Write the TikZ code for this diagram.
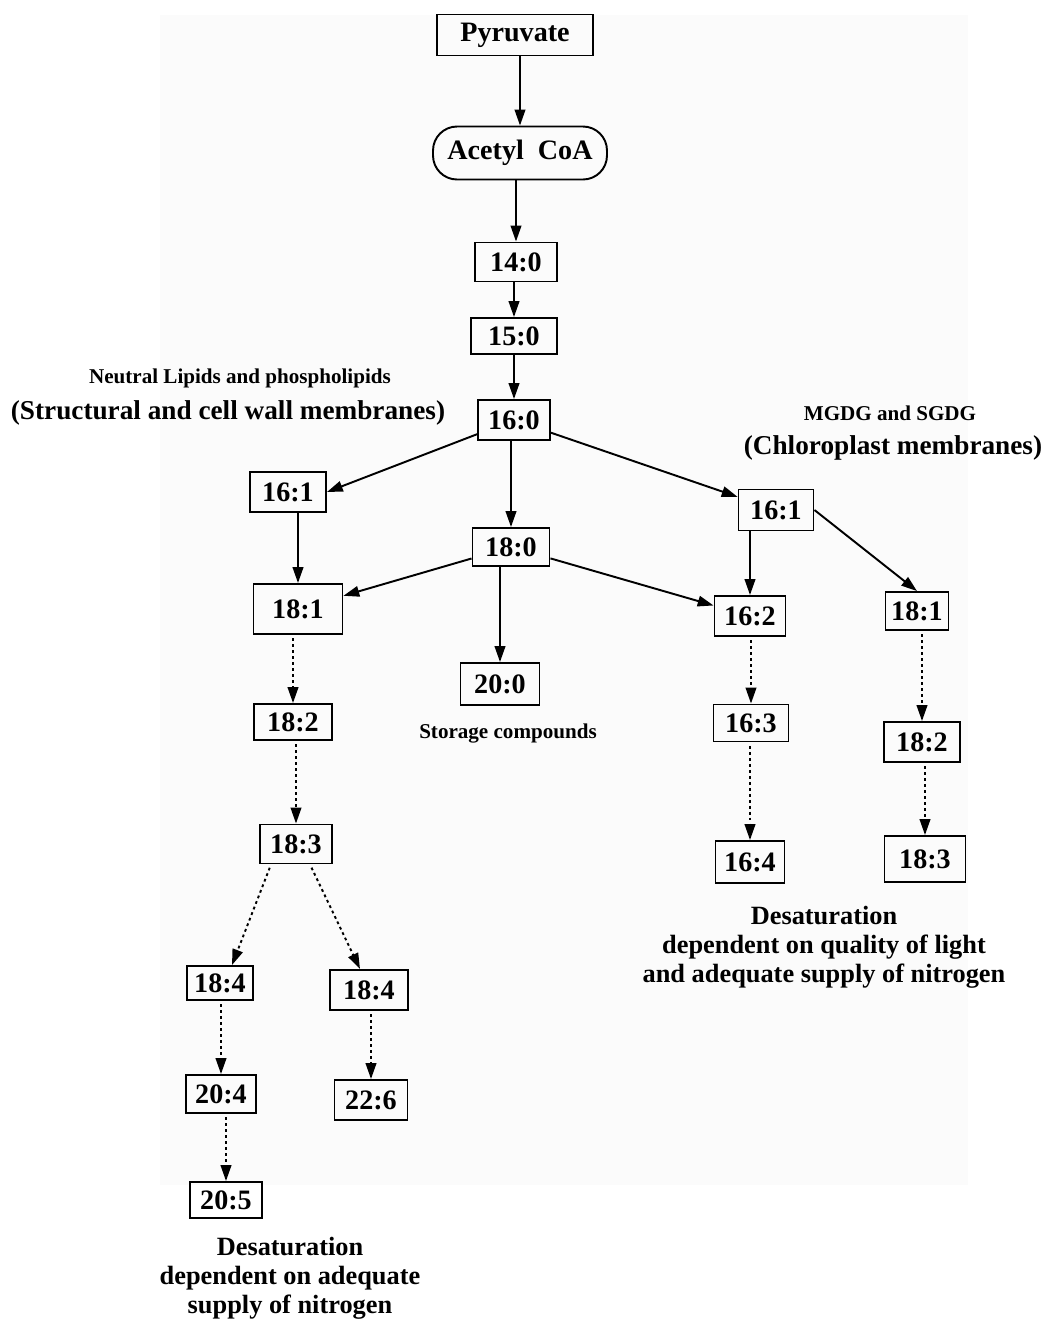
\documentclass[tikz,border=0pt]{standalone}
\usepackage{fontspec}
\setmainfont{Liberation Serif}
\usetikzlibrary{arrows.meta,calc}

\tikzset{
  acid/.style={draw, line width=1.1pt, inner sep=1pt,
    font=\fontsize{16}{19}\selectfont\bfseries},
  flow/.style={line width=1.1pt, -{Triangle[length=9pt,width=6pt]}},
  desat/.style={flow, dash pattern=on 1.6pt off 1.8pt, shorten <=2pt},
  smalllab/.style={font=\fontsize{12}{14}\selectfont\bfseries},
  biglab/.style={font=\fontsize{15.5}{18}\selectfont\bfseries},
  notelab/.style={align=center, font=\fontsize{15}{16.5}\selectfont\bfseries}
}

\begin{document}
\begin{tikzpicture}[x=0.02cm, y=-0.02cm]

    % page frame (pixel units) and the grey scan area
    \useasboundingbox (0,0) rectangle (1047,1320);
    \fill[black!1.5] (160,15) rectangle (968,1185);

    % start of the pathway
    \node[acid, minimum width=3.12cm, minimum height=0.82cm] (pyr) at (515,35) {Pyruvate};
    \node[acid, rounded corners=0.48cm, minimum width=3.48cm, minimum height=1.06cm] (acoa) at (520,153) {Acetyl~~CoA};

    % fatty acid boxes: name/x/y/width/height/label
    \foreach \n/\x/\y/\w/\h/\t in {
        c140/516/262/1.64/0.78/14:0,
        c150/514/336/1.72/0.72/15:0,
        c160/514/420/1.44/0.80/16:0,
        lc161/288/492/1.52/0.80/16:1,
        c180/511/547/1.54/0.76/18:0,
        rc161/776/510/1.50/0.82/16:1,
        lc181/298/609/1.78/1.00/18:1,
        c162/750/616/1.42/0.80/16:2,
        rc181/917/611/1.26/0.76/18:1,
        c200/500/684/1.58/0.84/20:0,
        lc182/293/722/1.56/0.72/18:2,
        c163/751/723/1.50/0.74/16:3,
        rc182/922/742/1.52/0.80/18:2,
        lc183/296/844/1.44/0.78/18:3,
        c164/750/862/1.38/0.84/16:4,
        rc183/925/859/1.62/0.92/18:3,
        lc184/220/983/1.32/0.68/18:4,
        mc184/369/990/1.56/0.80/18:4,
        c204/221/1094/1.40/0.76/20:4,
        c226/371/1100/1.46/0.80/22:6,
        c205/226/1200/1.44/0.72/20:5} {
        \node[acid, minimum width=\w cm, minimum height=\h cm] (\n) at (\x,\y) {\t};
    }

    % labels
    \node[smalllab] (neutral) at (240,378) {Neutral Lipids and phospholipids};
    \node[biglab] (struct) at (228,413) {(Structural and cell wall membranes)};
    \node[smalllab] (mgdg) at (890,413) {MGDG and SGDG};
    \node[biglab] (chloro) at (893,448) {(Chloroplast membranes)};
    \node[smalllab] (storage) at (508,733) {Storage compounds};
    \node[notelab] (noteR) at (824,947) {Desaturation\\dependent on quality of light\\and adequate supply of nitrogen};
    \node[notelab] (noteL) at (290,1278) {Desaturation\\dependent on adequate\\supply of nitrogen};

    % straight solid steps
    \foreach \a/\b in {pyr/acoa, acoa/c140, c140/c150, c150/c160, c160/c180,
                       c180/c200, lc161/lc181, rc161/c162} {
        \draw[flow] (\b.north |- \a.south) -- (\b.north);
    }

    % branching solid steps
    \draw[flow] (c160) -- (lc161.east);
    \foreach \a/\b in {c160/rc161, c180/lc181, c180/c162} {
        \draw[flow] (\a) -- (\b);
    }
    \draw[flow] (rc161.east) -- (rc181.north);

    % desaturation steps (dotted)
    \foreach \a/\b in {lc181/lc182, lc182/lc183, c162/c163, c163/c164,
                       rc181/rc182, rc182/rc183, lc184/c204, mc184/c226, c204/c205} {
        \draw[desat] (\b.north |- \a.south) -- (\b.north);
    }
    \draw[desat] ([xshift=-0.5cm]lc183.south) -- ([xshift=0.24cm]lc184.north);
    \draw[desat] ([xshift=0.28cm]lc183.south) -- ([xshift=-0.18cm]mc184.north);

\end{tikzpicture}
\end{document}
